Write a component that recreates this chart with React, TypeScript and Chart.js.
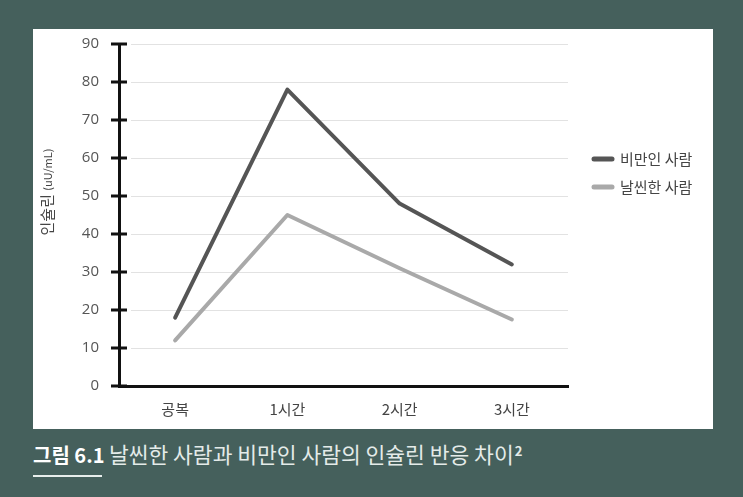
import React, { useEffect, useRef } from 'react';
import { Chart, registerables } from 'chart.js';

Chart.register(...registerables);

// ---- data ----
const categories = ['공복', '1시간', '2시간', '3시간'];
const seriesNames = ['비만인 사람', '날씬한 사람'];
const obeseValues = [18, 78, 48, 32];
const leanValues = [12, 45, 31, 17.5];
const yMin = 0;
const yMax = 90;
const yStep = 10;
const yTitleMain = '인슐린';
const yTitleUnit = '(uU/mL)';
const captionLead = '그림 6.1';
const captionText = '날씬한 사람과 비만인 사람의 인슐린 반응 차이';
const captionSup = '2';

// ---- styles ----
const BG = '#45605c';
const DARK = '#555555';
const LIGHT = '#a9a9a9';
const KFONT = '"Noto Sans CJK KR", "Noto Sans", sans-serif';

const decorPlugin = {
  id: 'decor',
  beforeDatasetsDraw(chart: any) {
    const { ctx, chartArea, scales } = chart;
    const y = scales.y;
    ctx.save();
    y.ticks.forEach((t: any) => {
      if (t.value === yMin) return;
      const py = Math.round(y.getPixelForValue(t.value)) + 0.5;
      ctx.strokeStyle = '#e2e2e2';
      ctx.lineWidth = 1;
      ctx.beginPath();
      ctx.moveTo(chartArea.left + 12, py);
      ctx.lineTo(chartArea.right, py);
      ctx.stroke();
    });
    y.ticks.forEach((t: any) => {
      const py = y.getPixelForValue(t.value);
      ctx.strokeStyle = '#111';
      ctx.lineWidth = 3;
      ctx.beginPath();
      ctx.moveTo(chartArea.left - 8, py);
      ctx.lineTo(chartArea.left + 8, py);
      ctx.stroke();
    });
    ctx.restore();
  },
  afterDraw(chart: any) {
    const { ctx, chartArea } = chart;
    ctx.save();
    const cx = chartArea.left - 72;
    const cy = (chartArea.top + chartArea.bottom) / 2 - 23;
    ctx.translate(cx, cy);
    ctx.rotate(-Math.PI / 2);
    ctx.fillStyle = '#444';
    ctx.textBaseline = 'middle';
    ctx.textAlign = 'left';
    ctx.font = `15px ${KFONT}`;
    const w1 = ctx.measureText(yTitleMain + ' ').width;
    ctx.font = `11px ${KFONT}`;
    const w2 = ctx.measureText(yTitleUnit).width;
    const start = -(w1 + w2) / 2;
    ctx.font = `15px ${KFONT}`;
    ctx.fillText(yTitleMain, start, 0);
    ctx.font = `11px ${KFONT}`;
    ctx.fillText(yTitleUnit, start + w1, 1);
    ctx.restore();

    ctx.save();
    const lx = chartArea.right + 24;
    const ly0 = chartArea.top + 115;
    chart.data.datasets.forEach((ds: any, i: number) => {
      const ly = ly0 + i * 28;
      ctx.strokeStyle = ds.borderColor;
      ctx.lineWidth = 5;
      ctx.lineCap = 'round';
      ctx.beginPath();
      ctx.moveTo(lx + 2, ly);
      ctx.lineTo(lx + 20, ly);
      ctx.stroke();
      ctx.fillStyle = '#444';
      ctx.font = `15px ${KFONT}`;
      ctx.textBaseline = 'middle';
      ctx.textAlign = 'left';
      ctx.fillText(ds.label, lx + 28, ly);
    });
    ctx.restore();
  },
};

export default function App() {
  const ref = useRef<HTMLCanvasElement>(null);
  useEffect(() => {
    document.body.style.margin = '0';
    const chart = new Chart(ref.current as HTMLCanvasElement, {
      type: 'line',
      data: {
        labels: categories,
        datasets: [
          {
            label: seriesNames[0],
            data: obeseValues,
            borderColor: DARK,
            backgroundColor: DARK,
            borderWidth: 4,
            pointRadius: 0,
            borderCapStyle: 'round',
            borderJoinStyle: 'round',
            tension: 0,
          },
          {
            label: seriesNames[1],
            data: leanValues,
            borderColor: LIGHT,
            backgroundColor: LIGHT,
            borderWidth: 4,
            pointRadius: 0,
            borderCapStyle: 'round',
            borderJoinStyle: 'round',
            tension: 0,
          },
        ],
      },
      options: {
        responsive: false,
        animation: false,
        layout: { autoPadding: false, padding: { left: 0, top: 15, right: 145, bottom: 0 } },
        plugins: {
          legend: { display: false },
          tooltip: { enabled: false },
        },
        scales: {
          x: {
            offset: true,
            grid: { display: false, drawTicks: false },
            border: { display: true, color: '#111', width: 3 },
            ticks: {
              color: '#444',
              padding: 14,
              font: { family: KFONT, size: 15 },
            },
            afterFit: (s: any) => {
              s.height = 43;
              s.paddingLeft = 0;
              s.paddingRight = 0;
            },
          },
          y: {
            min: yMin,
            max: yMax,
            grid: { display: false, drawTicks: false },
            border: { display: true, color: '#111', width: 3 },
            ticks: {
              stepSize: yStep,
              color: '#555',
              padding: 20,
              font: { family: '"Open Sans", "Noto Sans", sans-serif', size: 15 },
            },
            afterFit: (s: any) => {
              s.width = 86;
              s.paddingTop = 0;
              s.paddingBottom = 0;
            },
          },
        },
      },
      plugins: [decorPlugin],
    } as any);
    return () => chart.destroy();
  }, []);

  return (
    <div
      style={{
        position: 'absolute',
        left: 0,
        top: 0,
        width: 743,
        height: 497,
        background: BG,
        overflow: 'hidden',
      }}
    >
      <div
        style={{
          position: 'absolute',
          left: 33,
          top: 29,
          width: 680,
          height: 400,
          background: '#ffffff',
        }}
      >
        <canvas ref={ref} width={680} height={400} style={{ display: 'block' }} />
      </div>
      <div
        style={{
          position: 'absolute',
          left: 33,
          top: 440,
          whiteSpace: 'nowrap',
          fontFamily: KFONT,
          fontSize: 20,
          lineHeight: '28px',
          color: '#e4ebe9',
        }}
      >
        <span style={{ fontWeight: 700, color: '#ffffff' }}>{captionLead}</span>{' '}
        <span style={{ fontSize: 21.5 }}>{captionText}</span>
        <sup style={{ fontSize: 13, fontWeight: 700, verticalAlign: 'top', position: 'relative', top: -3, marginLeft: 1 }}>
          {captionSup}
        </sup>
      </div>
      <div
        style={{
          position: 'absolute',
          left: 33,
          top: 475,
          width: 69,
          height: 2,
          background: '#e8eeec',
        }}
      />
    </div>
  );
}
